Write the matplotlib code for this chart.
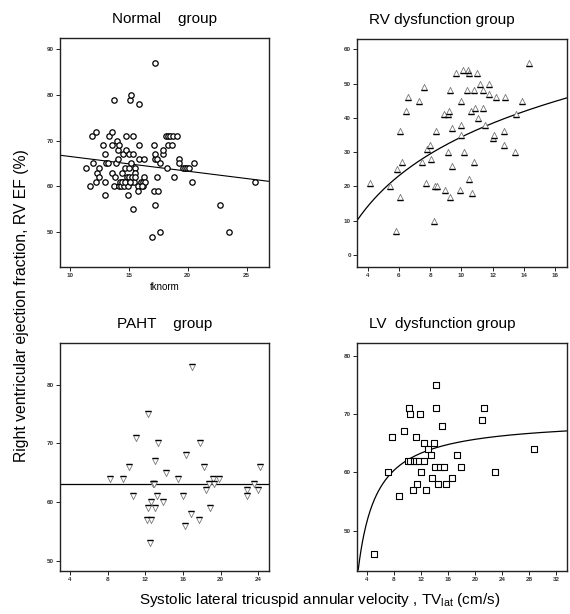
import matplotlib
matplotlib.use('Agg')
import matplotlib.pyplot as plt
import numpy as np
from matplotlib.path import Path

plt.rcParams['font.family'] = ['Liberation Sans', 'DejaVu Sans']
plt.rcParams['mathtext.fontset'] = 'custom'
plt.rcParams['mathtext.rm'] = 'Liberation Sans'

# Normal group (tknorm vs RV EF)
normal_x = [11.33, 11.73, 11.84, 11.98, 12.18, 12.18, 12.32, 12.46, 12.46, 12.80,
            12.94, 13.00, 13.00, 13.06, 13.26, 13.31, 13.57, 13.54, 13.57, 13.74,
            13.74, 13.85, 13.93, 13.96, 14.08, 14.08, 14.13, 14.13, 14.25, 14.36,
            14.39, 14.47, 14.53, 14.59, 14.70, 14.73, 14.76, 14.81, 14.87, 14.92,
            14.95, 14.98, 15.01, 15.04, 15.12, 15.21, 15.15, 15.21, 15.26, 15.32,
            15.35, 15.38, 15.43, 15.49, 15.52, 15.75, 15.75, 15.83, 15.83, 15.83,
            16.00, 16.17, 16.23, 16.26, 16.31, 16.37, 16.93, 17.10, 17.16, 17.22,
            17.25, 17.25, 17.22, 17.36, 17.42, 17.47, 17.64, 17.67, 17.87, 17.93,
            18.15, 18.21, 18.29, 18.35, 18.46, 18.66, 18.72, 18.83, 19.11, 19.23,
            19.26, 19.57, 19.79, 19.96, 20.13, 20.36, 20.53, 22.74, 23.50, 25.74,
            14.45, 14.65, 15.10, 15.55, 16.10]
normal_y = [64, 60, 71, 65, 72, 61, 63, 64, 62, 69,
            61, 67, 58, 65, 65, 71, 72, 69, 63, 79,
            60, 62, 65, 70, 68, 66, 69, 60, 61, 60,
            63, 67, 61, 60, 64, 68, 71, 62, 61, 58,
            60, 64, 67, 62, 79, 80, 65, 61, 62, 71,
            55, 67, 61, 64, 63, 60, 59, 78, 69, 66,
            61, 61, 60, 66, 62, 61, 49, 69, 59, 66,
            87, 67, 56, 62, 66, 59, 65, 50, 67, 68,
            71, 64, 71, 69, 71, 69, 71, 62, 71, 66,
            65, 64, 64, 64, 64, 61, 65, 56, 50, 61,
            61, 61, 61, 62, 60]
normal_fit = (69.75, -0.322)  # intercept, slope

# RV dysfunction group
rv_x = [4.17, 5.45, 5.90, 5.79, 6.07, 6.07, 6.20, 6.47, 6.56, 7.28,
        7.47, 7.58, 7.73, 7.79, 7.96, 8.07, 8.26, 8.31, 8.39, 8.41,
        8.88, 8.97, 9.14, 9.12, 9.21, 9.29, 9.29, 9.39, 9.39, 9.67,
        9.88, 9.99, 9.99, 9.99, 10.10, 10.18, 10.39, 10.37, 10.48, 10.50,
        10.59, 10.69, 10.78, 10.80, 10.88, 10.99, 11.08, 11.18, 11.40, 11.40,
        11.48, 11.78, 11.78, 11.99, 12.10, 12.18, 12.70, 12.70, 12.78, 13.40,
        13.48, 13.89, 14.29]
rv_y = [21, 20, 25, 7, 36, 17, 27, 42, 46, 45,
        27, 49, 21, 31, 32, 28, 10, 20, 36, 20,
        41, 19, 41, 30, 42, 48, 17, 37, 26, 53,
        19, 45, 38, 35, 54, 30, 54, 48, 53, 22,
        42, 18, 48, 27, 43, 53, 40, 50, 48, 43,
        38, 47, 50, 34, 35, 46, 36, 32, 46, 30,
        41, 45, 56]
rv_fit = (-16.63, 22.16)  # a + b*ln(x)

# PAHT group
paht_x = [8.21, 9.59, 10.30, 10.65, 11.04, 12.32, 12.32, 12.18, 12.60, 12.53,
          12.60, 12.78, 12.96, 13.03, 13.03, 13.24, 13.38, 13.84, 14.23, 15.50,
          15.96, 16.18, 16.28, 16.81, 16.92, 17.70, 17.84, 18.19, 18.48, 18.80,
          18.83, 19.15, 19.33, 19.82, 22.76, 22.83, 23.58, 24.00, 24.21]
paht_y = [64, 64, 66, 61, 71, 75, 59, 57, 57, 53,
          60, 63, 63, 67, 59, 61, 70, 60, 65, 64,
          61, 56, 68, 58, 83, 57, 70, 66, 62, 63,
          59, 64, 63, 64, 61, 62, 63, 62, 66]
paht_fit = 63.1  # constant

# LV dysfunction group
lv_x = [5.03, 7.10, 7.75, 8.73, 9.47, 10.26, 10.36, 10.06, 10.46, 10.85,
        10.95, 11.34, 11.29, 11.44, 11.74, 11.89, 12.03, 12.48, 12.48, 12.72,
        13.12, 13.51, 13.71, 14.00, 14.05, 14.20, 14.20, 14.50, 14.89, 15.09,
        15.38, 15.78, 16.62, 17.36, 17.95, 21.00, 21.30, 22.93, 28.69]
lv_y = [46, 60, 66, 56, 67, 71, 70, 62, 62, 57,
        62, 62, 66, 58, 62, 70, 60, 65, 62, 57,
        64, 63, 59, 65, 61, 75, 71, 58, 61, 68,
        61, 58, 59, 63, 61, 69, 71, 60, 64]
lv_fit = (69.22, -71.26)  # a + b/x

BASE_UP = Path([(-1, -1), (1, -1)])
BASE_DOWN = Path([(-1, 1), (1, 1)])


def style_axes(ax, xlim, ylim, xticks, yticks):
    ax.set_xlim(*xlim)
    ax.set_ylim(*ylim)
    ax.set_xticks(xticks)
    ax.set_yticks(yticks)
    ax.tick_params(direction='out', length=3, width=0.6, labelsize=4.5,
                   labelcolor='#333333', pad=1.5)
    for label in ax.get_xticklabels() + ax.get_yticklabels():
        label.set_fontweight('bold')
    for spine in ax.spines.values():
        spine.set_linewidth(1.0)
        spine.set_color('#222222')


fig = plt.figure(figsize=(5.7, 6.14), dpi=100)

# Normal
ax1 = fig.add_axes([0.1053, 0.5656, 0.3661, 0.372])
ax1.scatter(normal_x, normal_y, s=15, facecolors='white', edgecolors='black',
            linewidths=0.9, zorder=3)
xs = np.array([9.15, 26.87])
ax1.plot(xs, normal_fit[0] + normal_fit[1] * xs, color='black', lw=0.8, zorder=2)
style_axes(ax1, (9.15, 26.87), (42.4, 92.4), [10, 15, 20, 25], [50, 60, 70, 80, 90])
ax1.set_xlabel('tknorm', fontsize=7, labelpad=3)
ax1.set_title('Normal    group', fontsize=11, pad=11)

# RV dysfunction
ax2 = fig.add_axes([0.6268, 0.5656, 0.3674, 0.3708])
ax2.scatter(rv_x, rv_y, s=20, marker='^', facecolors='white', edgecolors='#777777',
            linewidths=0.6, zorder=3)
ax2.scatter(rv_x, rv_y, s=20, marker=BASE_UP, color='black', linewidths=1.0, zorder=4)
xs = np.linspace(3.34, 16.73, 200)
ax2.plot(xs, rv_fit[0] + rv_fit[1] * np.log(xs), color='black', lw=0.9, zorder=2)
style_axes(ax2, (3.34, 16.73), (-3.5, 63), range(4, 17, 2), range(0, 61, 10))
ax2.set_title('RV dysfunction group', fontsize=11, pad=11, x=0.405)

# PAHT
ax3 = fig.add_axes([0.1053, 0.0700, 0.3661, 0.3708])
ax3.scatter(paht_x, paht_y, s=20, marker='v', facecolors='white', edgecolors='#777777',
            linewidths=0.6, zorder=3)
ax3.scatter(paht_x, paht_y, s=20, marker=BASE_DOWN, color='black', linewidths=1.0, zorder=4)
ax3.axhline(paht_fit, color='black', lw=0.9, zorder=2)
style_axes(ax3, (2.94, 25.1), (48.25, 87.05), range(4, 25, 4), [50, 60, 70, 80])
ax3.set_title('PAHT    group', fontsize=11, pad=11)

# LV dysfunction
ax4 = fig.add_axes([0.6268, 0.0700, 0.3679, 0.3708])
ax4.scatter(lv_x, lv_y, s=17, marker='s', facecolors='white', edgecolors='black',
            linewidths=0.8, zorder=3)
xs = np.linspace(2.75, 33.6, 300)
ax4.plot(xs, lv_fit[0] + lv_fit[1] / xs, color='black', lw=0.9, zorder=2)
style_axes(ax4, (2.61, 33.6), (43.1, 82.1), range(4, 33, 4), [50, 60, 70, 80])
ax4.set_title('LV  dysfunction group', fontsize=11, pad=11, x=0.405)

fig.text(0.037, 0.503, 'Right ventricular ejection fraction, RV EF (%)',
         rotation=90, ha='center', va='center', fontsize=11.3)
fig.text(0.561, 0.016, 'Systolic lateral tricuspid annular velocity , TV$_{\\rm lat}$ (cm/s)',
         ha='center', va='baseline', fontsize=11)

fig.savefig('out.png', dpi=100, facecolor='white')
